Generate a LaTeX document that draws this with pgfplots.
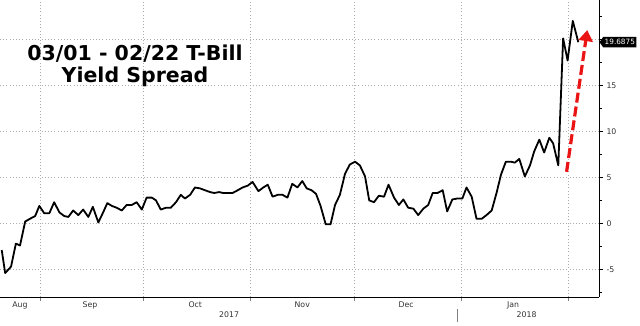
\documentclass[border=0pt]{standalone}
\usepackage{fontspec}
\setmainfont{DejaVu Sans}
\usepackage{pgfplots}
\pgfplotsset{compat=1.18}
\usetikzlibrary{arrows.meta,shapes.symbols}
\definecolor{arrred}{RGB}{235,20,20}
\begin{document}
\begin{tikzpicture}
\begin{axis}[name=ax, scale only axis, width=599pt, height=297pt,
 xmin=-11.6, xmax=162, ymin=-8, ymax=24.27,
 axis x line*=bottom, axis y line*=right,
 xtick={0,30,61,91,122,153}, xticklabels={},
 ytick={-5,0,5,10,15,20}, yticklabels={-5,0,5,10,15,{}},
 minor ytick={-7.5,-2.5,2.5,7.5,12.5,17.5,22.5},
 grid=major, major grid style={gray!65, dash pattern=on 0.8pt off 2.4pt, line width=0.7pt},
 tick align=outside, major tick length=4pt, minor tick length=3pt,
 tick style={black, line width=0.5pt},
 xtick style={gray, line width=0.5pt},
 extra x ticks={-5.8,14.5,45,76,106.1,137.1},
 extra x tick labels={Aug,Sep,Oct,Nov,Dec,Jan},
 extra x tick style={grid=none, major tick length=0pt, tick label style={yshift=-1.5pt}},
 tick label style={font=\fontsize{7.8}{9}\selectfont, text=black!80},
 /pgf/number format/assume math mode=true,
 axis line style={black, line width=0.6pt},
 clip=false,
]
\addplot[black, line width=1.8pt, line join=round] coordinates {
(-11.1,-2.9)(-10.1,-5.4)(-8.4,-4.7)(-7.0,-2.2)(-5.8,-2.4)(-4.3,0.2)(-2.9,0.5)(-1.4,0.8)
(-0.2,1.9)(1.2,1.1)(2.7,1.1)(4.1,2.3)(5.6,1.2)(7.0,0.8)(8.2,0.7)(9.6,1.4)(11.1,0.9)
(12.5,1.5)(14.0,0.7)(15.3,1.8)(16.9,0.1)(18.3,1.2)(19.5,2.2)(20.8,1.9)(22.2,1.7)
(23.7,1.4)(25.1,2.0)(26.6,2.0)(28.0,2.3)(29.5,1.5)(30.9,2.8)(32.4,2.8)(33.6,2.5)
(35.0,1.5)(36.5,1.7)(37.9,1.7)(39.4,2.3)(40.8,3.1)(42.0,2.7)(43.5,3.1)(44.9,3.9)
(46.4,3.8)(47.8,3.6)(49.3,3.4)(50.5,3.3)(51.9,3.4)(53.1,3.3)(54.6,3.3)(55.8,3.3)
(57.3,3.6)(58.7,3.9)(60.2,4.1)(61.6,4.5)(63.3,3.5)(64.7,3.9)(66.0,4.2)(67.4,2.9)
(68.9,3.1)(70.3,3.1)(71.7,2.8)(73.1,4.3)(74.6,3.9)(76.0,4.6)(77.3,3.8)(78.7,3.6)
(80.0,3.2)(81.3,1.9)(82.8,-0.1)(84.2,-0.1)(85.5,2.0)(86.9,3.1)(88.4,5.4)(89.8,6.4)
(91.3,6.7)(92.7,6.3)(94.2,5.1)(95.4,2.5)(96.8,2.3)(98.2,3.0)(99.7,2.9)(101.0,4.2)
(102.6,2.8)(104.0,2.0)(105.3,2.6)(106.7,1.7)(108.2,1.6)(109.6,0.9)(111.1,1.6)
(112.5,2.0)(113.8,3.3)(115.2,3.3)(116.7,3.6)(118.0,1.3)(119.5,2.6)(120.9,2.7)
(122.4,2.7)(123.6,3.9)(125.1,2.9)(126.5,0.5)(128.0,0.5)(129.4,0.9)(130.9,1.4)
(132.3,3.3)(133.6,5.3)(135.0,6.7)(136.5,6.7)(137.6,6.6)(138.9,7.0)(140.5,5.1)
(142.0,6.3)(143.2,7.8)(144.7,9.1)(146.1,7.7)(147.6,9.3)(148.7,8.7)(150.2,6.3)
(151.6,20.1)(152.9,17.7)(154.4,22.0)(156.0,19.6875)
};
\addplot[arrred, line width=3.2pt, dash pattern=on 10pt off 4pt,
  -{Triangle[width=14pt,length=11pt]}] coordinates {(152.6,5.6)(158.6,21.0)};
\node[signal, signal to=west, fill=black, text=white, font=\fontsize{7.3}{9}\selectfont,
  inner xsep=1.5pt, inner ysep=2.5pt, signal pointer angle=110, anchor=west] at ([xshift=0.3pt]axis cs:162,19.6875) {19.6875};
\node[font=\fontsize{7.8}{9}\selectfont, text=black!80] at ([yshift=-18pt]axis cs:54.8,-8) {2017};
\node[font=\fontsize{7.8}{9}\selectfont, text=black!80] at ([yshift=-18pt]axis cs:141,-8) {2018};
\draw[gray, line width=0.5pt] ([yshift=-12pt]axis cs:121,-8) -- ([yshift=-25pt]axis cs:121,-8);
\end{axis}
\node[align=center, font=\bfseries\fontsize{20.5}{22}\selectfont] at ([shift={(135pt,-66pt)}]ax.north west) {03/01 - 02/22 T-Bill\\Yield Spread};
\pgfresetboundingbox
\path[use as bounding box] ([yshift=-28pt]ax.south west) rectangle ([xshift=640pt]ax.north west);
\end{tikzpicture}
\end{document}
